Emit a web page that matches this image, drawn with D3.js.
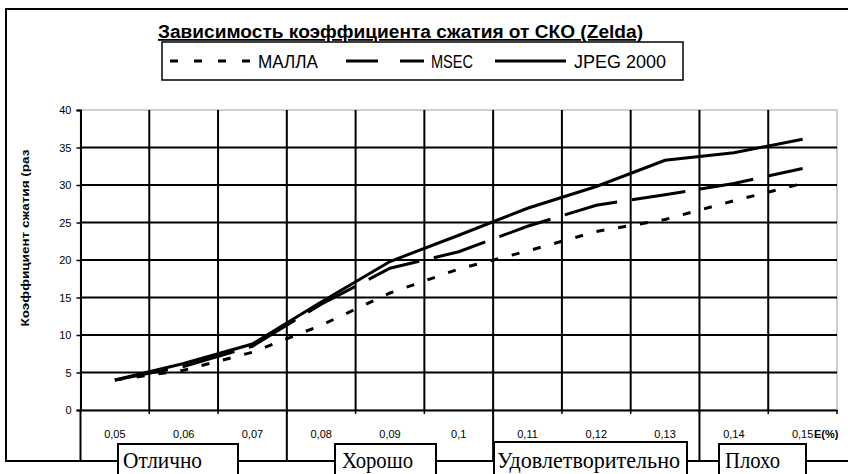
<!DOCTYPE html>
<html>
<head>
<meta charset="utf-8">
<title>Zelda</title>
<script src="https://cdn.jsdelivr.net/npm/d3@7/dist/d3.min.js"></script>
<style>
body { margin: 0; background: #fff; }
</style>
</head>
<body>
<script>
// данные
var categories = ['0,05', '0,06', '0,07', '0,08', '0,09', '0,1', '0,11', '0,12', '0,13', '0,14', '0,15'];
var mallaValues = [4, 5.3, 7.7, 11.3, 15.6, 18.8, 21.2, 23.8, 25.4, 27.9, 30.2];
var msecValues = [4, 5.8, 8.5, 14.1, 18.9, 21.1, 24.5, 27.3, 28.7, 30.2, 32.2];
var jpegValues = [4, 6.2, 8.8, 14.4, 19.8, 23.3, 26.9, 29.8, 33.3, 34.3, 36.1];
var yTicks = [0, 5, 10, 15, 20, 25, 30, 35, 40];
var seriesNames = ['МАЛЛА', 'MSEC', 'JPEG 2000'];
var grades = ['Отлично', 'Хорошо', 'Удовлетворительно', 'Плохо'];
var gradeStart = [0, 3, 6, 9]; // индекс первой категории каждой оценки

var sans = '"Liberation Sans", Arial, sans-serif';
var serif = '"Liberation Serif", "Times New Roman", serif';

var svgWidth = 848, svgHeight = 474;
var plot = { left: 80.5, right: 837, top: 110, bottom: 410 };

var svg = d3.select('body').append('svg')
    .attr('width', svgWidth)
    .attr('height', svgHeight)
    .style('font-family', sans);

var x = d3.scaleBand().domain(categories).range([plot.left, plot.right]).padding(0);
var y = d3.scaleLinear().domain([0, 40]).range([plot.bottom, plot.top]);

/* внешняя рамка */
svg.append('rect')
    .attr('x', 6).attr('y', 9)
    .attr('width', 900).attr('height', 452)
    .attr('fill', 'none').attr('stroke', '#000').attr('stroke-width', 2);

/* граница области построения */
svg.append('rect')
    .attr('x', plot.left).attr('y', plot.top)
    .attr('width', plot.right - plot.left).attr('height', plot.bottom - plot.top)
    .attr('fill', 'none').attr('stroke', '#c0c0c0').attr('stroke-width', 1.5);

/* горизонтальная сетка */
svg.append('g').selectAll('line')
    .data(yTicks.filter(function(d) { return d > 0 && d < 40; }))
    .enter().append('line')
    .attr('x1', plot.left).attr('x2', plot.right)
    .attr('y1', function(d) { return y(d); })
    .attr('y2', function(d) { return y(d); })
    .attr('stroke', '#000').attr('stroke-width', 2);

/* вертикальная сетка (между категориями) */
svg.append('g').selectAll('line')
    .data(categories.slice(1))
    .enter().append('line')
    .attr('x1', function(d) { return x(d); })
    .attr('x2', function(d) { return x(d); })
    .attr('y1', plot.top).attr('y2', plot.bottom)
    .attr('stroke', '#000').attr('stroke-width', 2);

/* ось Y */
var yAxis = svg.append('g')
    .attr('transform', 'translate(' + plot.left + ',0)')
    .call(d3.axisLeft(y).tickValues(yTicks).tickSize(4).tickPadding(5)
        .tickFormat(function(d) { return d; }));
yAxis.select('.domain').attr('stroke', '#000').attr('stroke-width', 2);
yAxis.selectAll('.tick line').attr('stroke', '#000').attr('stroke-width', 1.5);
yAxis.selectAll('text').attr('font-size', 11).attr('fill', '#000')
    .attr('font-family', sans);

/* ось X */
var xAxis = svg.append('g')
    .attr('transform', 'translate(0,' + plot.bottom + ')')
    .call(d3.axisBottom(x).tickSize(0).tickPadding(20));
xAxis.select('.domain').attr('stroke', '#000').attr('stroke-width', 2);
xAxis.selectAll('text').attr('font-size', 11).attr('fill', '#000')
    .attr('font-family', sans);

// засечки на границах категорий
svg.append('g').selectAll('line')
    .data(categories.map(function(d) { return x(d) + x.bandwidth(); }))
    .enter().append('line')
    .attr('x1', function(d) { return d; })
    .attr('x2', function(d) { return d; })
    .attr('y1', plot.bottom).attr('y2', plot.bottom + 4)
    .attr('stroke', '#000').attr('stroke-width', 1.5);

svg.append('text')
    .attr('x', 814).attr('y', 438)
    .attr('font-size', 11).attr('font-weight', 'bold')
    .text('E(%)');

/* подпись оси Y */
svg.append('text')
    .attr('transform', 'translate(29,238) rotate(-90)')
    .attr('text-anchor', 'middle')
    .attr('font-size', 11).attr('font-weight', 'bold')
    .attr('textLength', 177).attr('lengthAdjust', 'spacingAndGlyphs')
    .text('Коэффициент сжатия (раз');

/* разделители оценок под осью */
svg.append('g').selectAll('line')
    .data(gradeStart)
    .enter().append('line')
    .attr('x1', function(i) { return x(categories[i]); })
    .attr('x2', function(i) { return x(categories[i]); })
    .attr('y1', plot.bottom).attr('y2', 462)
    .attr('stroke', '#000').attr('stroke-width', 2);

/* блоки оценок */
var gradeBoxes = [
    { x: 118, w: 120, top: 444, tx: 123, tl: 79 },
    { x: 335, w: 101, top: 444, tx: 342, tl: 71 },
    { x: 494, w: 193, top: 442, tx: 497, tl: 183 },
    { x: 719, w: 87, top: 444, tx: 725, tl: 55 }
];
var g = svg.append('g').selectAll('g')
    .data(grades)
    .enter().append('g');
g.append('rect')
    .attr('x', function(d, i) { return gradeBoxes[i].x; })
    .attr('y', function(d, i) { return gradeBoxes[i].top; })
    .attr('width', function(d, i) { return gradeBoxes[i].w; })
    .attr('height', 60)
    .attr('fill', '#fff').attr('stroke', '#000').attr('stroke-width', 2);
g.append('text')
    .attr('x', function(d, i) { return gradeBoxes[i].tx; })
    .attr('y', 468)
    .style('font-family', serif)
    .attr('font-size', 23)
    .attr('textLength', function(d, i) { return gradeBoxes[i].tl; })
    .attr('lengthAdjust', 'spacingAndGlyphs')
    .text(function(d) { return d; });

/* линии серий */
var line = d3.line()
    .x(function(d, i) { return x(categories[i]) + x.bandwidth() / 2; })
    .y(function(d) { return y(d); });

var series = [
    { name: seriesNames[0], values: mallaValues, dash: '8,14' },
    { name: seriesNames[1], values: msecValues, dash: '54,15' },
    { name: seriesNames[2], values: jpegValues, dash: null }
];

svg.append('g').selectAll('path')
    .data(series)
    .enter().append('path')
    .attr('d', function(d) { return line(d.values); })
    .attr('fill', 'none')
    .attr('stroke', '#000')
    .attr('stroke-width', 3)
    .attr('stroke-dasharray', function(d) { return d.dash; });

/* заголовок */
svg.append('text')
    .attr('x', 158).attr('y', 38)
    .attr('font-size', 18).attr('font-weight', 'bold')
    .attr('textLength', 485).attr('lengthAdjust', 'spacingAndGlyphs')
    .attr('text-decoration', 'underline')
    .text('Зависимость коэффициента сжатия от СКО (Zelda)');

/* легенда */
svg.append('rect')
    .attr('x', 162).attr('y', 42)
    .attr('width', 521).attr('height', 38)
    .attr('fill', '#fff').attr('stroke', '#000').attr('stroke-width', 1.5);

var legendItems = [
    { x1: 170, x2: 252, tx: 258, tl: 60, dash: '8,16' },
    { x1: 346, x2: 424, tx: 431, tl: 42, dash: '32,22' },
    { x1: 495, x2: 566, tx: 574, tl: 92, dash: null }
];
var lg = svg.append('g').selectAll('g')
    .data(series)
    .enter().append('g');
lg.append('line')
    .attr('x1', function(d, i) { return legendItems[i].x1; })
    .attr('x2', function(d, i) { return legendItems[i].x2; })
    .attr('y1', 61).attr('y2', 61)
    .attr('stroke', '#000').attr('stroke-width', 3)
    .attr('stroke-dasharray', function(d, i) { return legendItems[i].dash; });
lg.append('text')
    .attr('x', function(d, i) { return legendItems[i].tx; })
    .attr('y', 68)
    .attr('font-size', 18)
    .attr('textLength', function(d, i) { return legendItems[i].tl; })
    .attr('lengthAdjust', 'spacingAndGlyphs')
    .text(function(d) { return d.name; });
</script>
</body>
</html>
